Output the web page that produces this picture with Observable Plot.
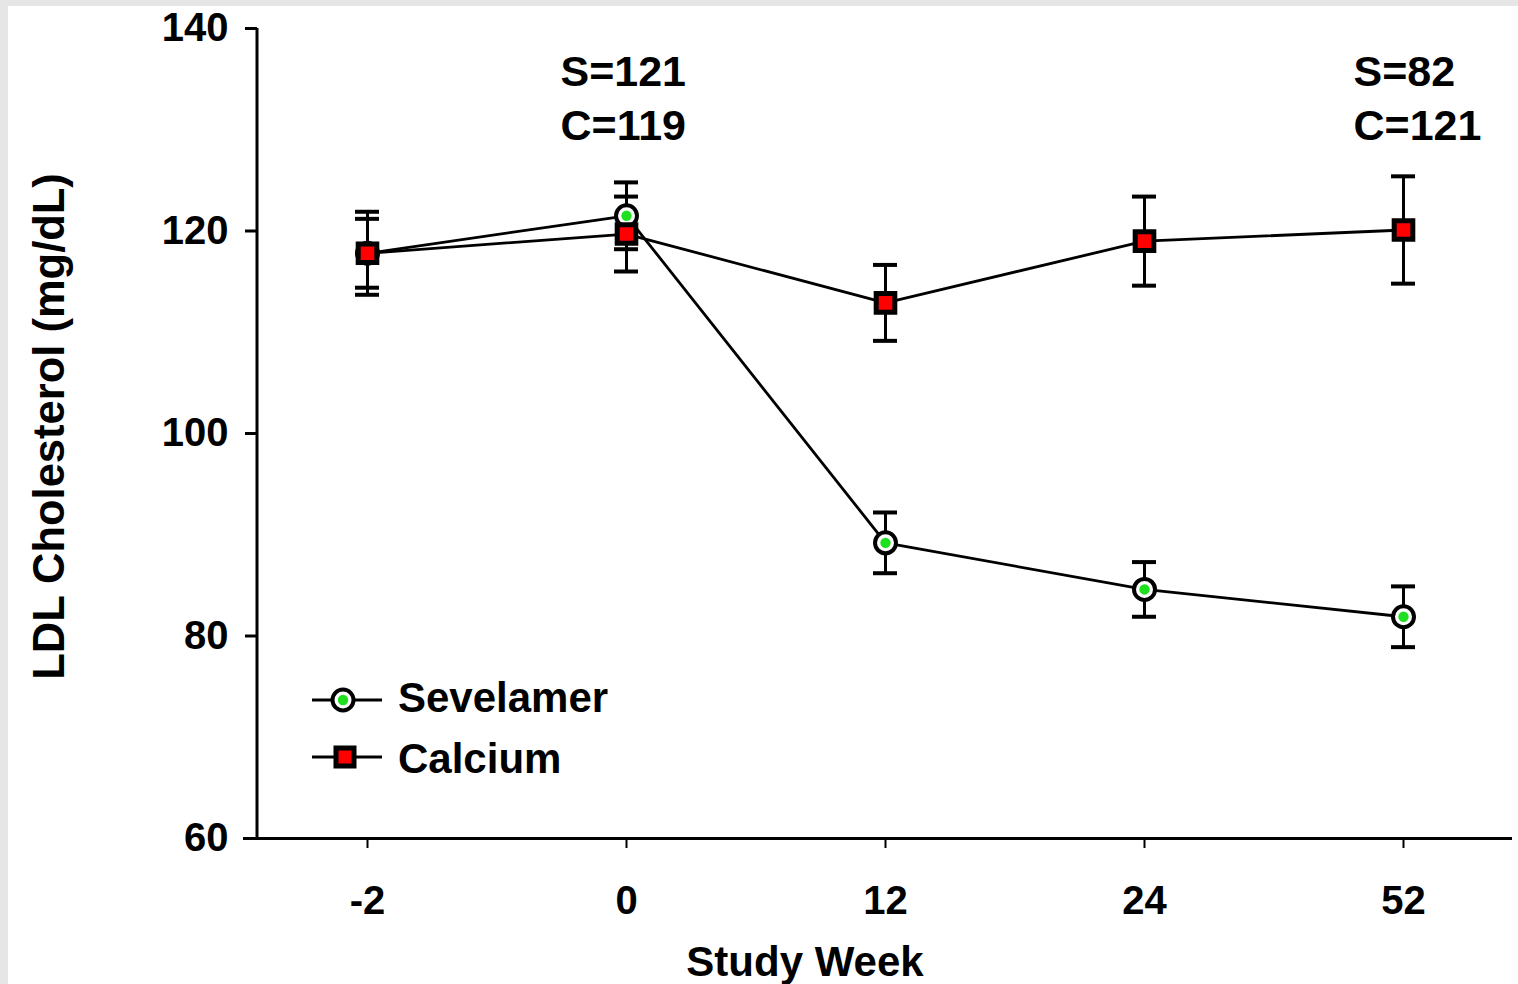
<!DOCTYPE html>
<html><head><meta charset="utf-8">
<script src="https://cdn.jsdelivr.net/npm/d3@7"></script>
<script src="https://cdn.jsdelivr.net/npm/@observablehq/plot@0.6"></script>
<style>
html,body{margin:0;padding:0;background:#e6e6e6;width:1518px;height:984px;overflow:hidden;}
#wrap{position:absolute;left:8px;top:6px;width:1510px;height:978px;background:#fff;}
</style></head><body><div id="wrap"></div>
<script>
const weeks = ["-2", "0", "12", "24", "52"];
const sevelamerMean = [117.8, 121.5, 89.2, 84.6, 81.9];
const sevelamerErr  = [4.1, 3.3, 3.0, 2.7, 3.0];
const calciumMean   = [117.8, 119.7, 112.9, 119.0, 120.1];
const calciumErr    = [3.4, 3.7, 3.75, 4.4, 5.3];
const seriesNames = ["Sevelamer", "Calcium"];
const annotationWeeks = ["0", "52"];
const annotationLabels = ["S=121\nC=119", "S=82\nC=121"];
const yTicks = [60, 80, 100, 120, 140];
const xTitle = "Study Week";
const yTitle = "LDL Cholesterol (mg/dL)";

const GREEN = "#1fe01f", RED = "#ff0000";
const FONT = "'Liberation Sans', Arial, Helvetica, sans-serif";

const sev = weeks.map((w, i) => ({series: seriesNames[0], week: w, mean: sevelamerMean[i], lo: sevelamerMean[i] - sevelamerErr[i], hi: sevelamerMean[i] + sevelamerErr[i]}));
const cal = weeks.map((w, i) => ({series: seriesNames[1], week: w, mean: calciumMean[i], lo: calciumMean[i] - calciumErr[i], hi: calciumMean[i] + calciumErr[i]}));
const rows = sev.concat(cal);
const ann = annotationWeeks.map((w, i) => ({week: w, label: annotationLabels[i]}));

const errMarks = (data) => [
  Plot.ruleX(data, {x: "week", y1: "lo", y2: "hi", stroke: "black", strokeWidth: 3}),
  Plot.ruleY(data, {x1: "week", x2: "week", y: "lo", insetLeft: -12, insetRight: -12, stroke: "black", strokeWidth: 4}),
  Plot.ruleY(data, {x1: "week", x2: "week", y: "hi", insetLeft: -12, insetRight: -12, stroke: "black", strokeWidth: 4})
];

const plot = Plot.plot({
  width: 1510, height: 978,
  marginLeft: 249, marginRight: 6, marginTop: 22, marginBottom: 146,
  style: {fontFamily: FONT, fontWeight: "bold", background: "white", color: "black", overflow: "visible"},
  x: {type: "point", domain: weeks, padding: 0.417},
  y: {domain: [60, 140]},
  marks: [
    Plot.axisY({ticks: yTicks, tickSize: 12, tickPadding: 17, fontSize: 40, label: null, strokeWidth: 3}),
    Plot.axisX({tickSize: 10, tickPadding: 37, fontSize: 40, label: null, strokeWidth: 2}),
    Plot.ruleY([60], {insetLeft: -14, stroke: "black", strokeWidth: 3}),
    ...errMarks(sev),
    ...errMarks(cal),
    Plot.line(rows, {x: "week", y: "mean", z: "series", stroke: "black", strokeWidth: 2.8}),
    Plot.dot(sev, {x: "week", y: "mean", r: 10.5, fill: "white", stroke: "black", strokeWidth: 4}),
    Plot.dot(sev, {x: "week", y: "mean", r: 5.2, fill: GREEN}),
    Plot.dot(cal, {x: "week", y: "mean", symbol: "square", r: 10.5, fill: RED, stroke: "black", strokeWidth: 5}),
    Plot.text(ann.slice(0, 1), {x: "week", text: "label", frameAnchor: "top", textAnchor: "start", lineAnchor: "top", dx: -66, dy: 19, fontSize: 43, lineHeight: 1.26}),
    Plot.text(ann.slice(1), {x: "week", text: "label", frameAnchor: "top", textAnchor: "start", lineAnchor: "top", dx: -50, dy: 19, fontSize: 43, lineHeight: 1.26}),
    Plot.text([xTitle], {frameAnchor: "bottom", dx: -80, dy: 124, fontSize: 42, lineAnchor: "middle"}),
    Plot.text([yTitle], {frameAnchor: "left", textAnchor: "middle", rotate: -90, dx: -207, dy: -7, fontSize: 43.5, lineAnchor: "middle"})
  ]
});
document.getElementById("wrap").appendChild(plot);

// y axis line and legend, positioned from the plot's own scales
const svg = d3.select(plot);
const xs = plot.scale("x"), ys = plot.scale("y");
const left = xs.range[0];
svg.append("line").attr("x1", left).attr("x2", left)
  .attr("y1", ys.apply(140)).attr("y2", ys.apply(60) + 1)
  .attr("stroke", "black").attr("stroke-width", 3);

const leg = svg.append("g").attr("font-family", FONT).attr("font-weight", "bold").attr("font-size", 42).attr("text-anchor", "start");
const legY = [694, 751];
seriesNames.forEach((name, i) => {
  const y = legY[i];
  leg.append("line").attr("x1", 304).attr("x2", 374).attr("y1", y).attr("y2", y).attr("stroke", "black").attr("stroke-width", 2.8);
  if (i === 0) {
    leg.append("circle").attr("cx", 335).attr("cy", y).attr("r", 10.5).attr("fill", "white").attr("stroke", "black").attr("stroke-width", 4);
    leg.append("circle").attr("cx", 335).attr("cy", y).attr("r", 5.2).attr("fill", GREEN);
  } else {
    leg.append("rect").attr("x", 337 - 9).attr("y", y - 9).attr("width", 18).attr("height", 18).attr("fill", RED).attr("stroke", "black").attr("stroke-width", 5);
  }
  leg.append("text").attr("x", 390).attr("y", y + 12).attr("dy", i === 0 ? 0 : 4).attr("fill", "black").text(name);
});
</script></body></html>
